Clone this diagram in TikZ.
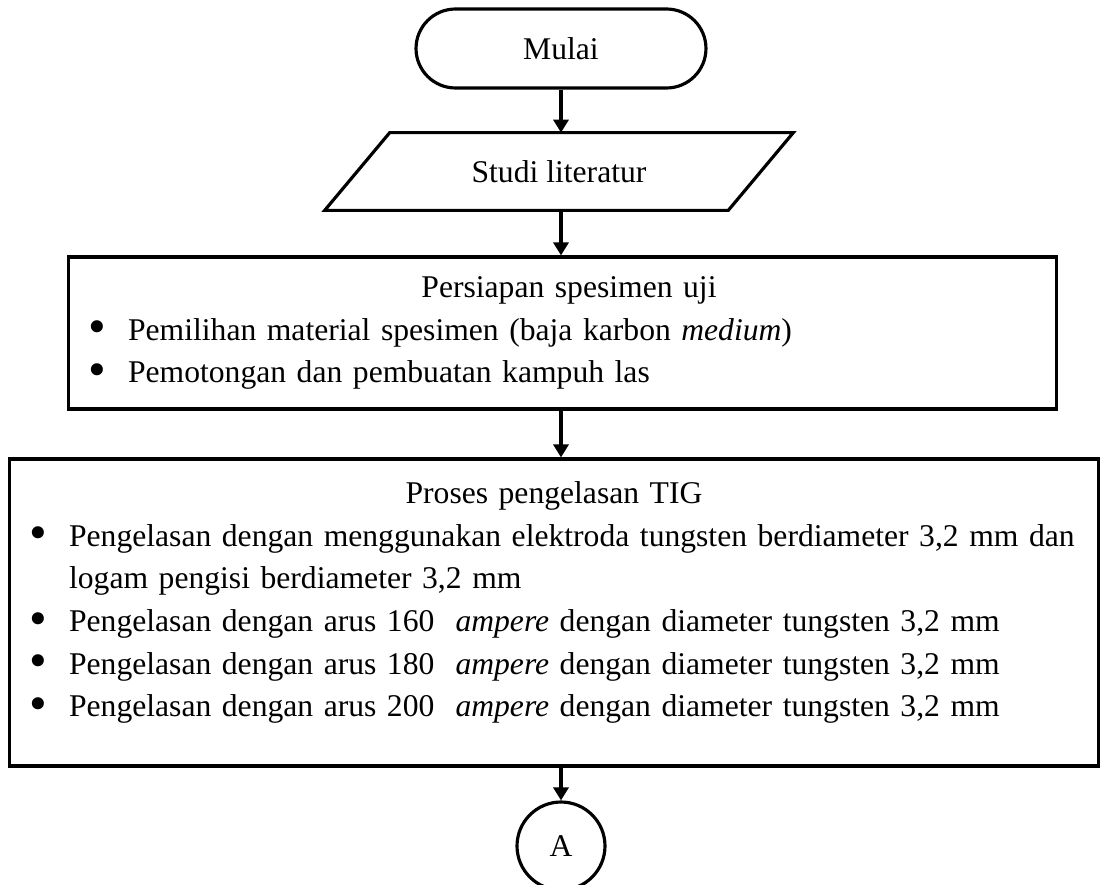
\documentclass[tikz,border=0pt]{standalone}
\usepackage{fontspec}
\setmainfont{Liberation Serif}
\usetikzlibrary{arrows.meta,calc}

\newcommand{\butir}[1]{\par\hangindent=1.2cm\hangafter=1\noindent
  \makebox[1.2cm][l]{\makebox[1.16cm][c]{\raisebox{-0.12em}{\scalebox{1.6}{\textbullet}}}}#1}

\begin{document}
\begin{tikzpicture}
  [
    x=0.02cm, y=-0.02cm,
    font=\fontsize{18}{24.3}\selectfont,
    garis/.style={line width=1.8pt},
    terminal/.style={garis,draw,rectangle,rounded corners=0.79cm,minimum width=5.8cm,minimum height=1.58cm},
    io/.style={rectangle,inner sep=0mm,minimum width=9.36cm,minimum height=1.54cm},
    prosesbox/.style={garis,draw,rectangle,inner sep=0mm,execute at begin node=\raggedright},
    konektor/.style={garis,draw,circle,inner sep=0mm,minimum size=1.76cm},
    panah/.style={line width=1.8pt,-{Triangle[length=0.26cm,width=0.3cm]}},
  ]
  \useasboundingbox (0,0) rectangle (1100,885);

  \node[terminal] (mulai)     at (561,48.5)  {Mulai};
  \node[io]       (studi)     at (559,171.5) {Studi literatur};
  \node[prosesbox,text width=19.78cm,minimum height=3.04cm] (persiapan) at (562.5,333)
    {\kern0.26cm
     {\centering Persiapan spesimen uji\par}
     \butir{Pemilihan material spesimen (baja karbon \textit{medium})}
     \butir{Pemotongan dan pembuatan kampuh las}};
  \node[prosesbox,text width=21.8cm,minimum height=6.14cm] (pengelasan) at (554,612.5)
    {{\centering Proses pengelasan TIG\par}
     \butir{Pengelasan dengan menggunakan elektroda tungsten berdiameter 3,2 mm dan\linebreak logam pengisi berdiameter 3,2 mm}
     \butir{Pengelasan dengan arus 160\ \ \textit{ampere} dengan diameter tungsten 3,2 mm}
     \butir{Pengelasan dengan arus 180\ \ \textit{ampere} dengan diameter tungsten 3,2 mm}
     \butir{Pengelasan dengan arus 200\ \ \textit{ampere} dengan diameter tungsten 3,2 mm}
     \par\kern0.4cm};
  \node[konektor] (A)         at (561,846)   {A};

  % jajar genjang
  \draw[garis] (studi.south west) -- ($(studi.north west)+(65,0)$)
    -- (studi.north east) -- ($(studi.south east)+(-65,0)$) -- cycle;

  \draw[panah] (mulai.south) -- (mulai.south |- studi.north);
  \draw[panah] (studi.south -| mulai.south) -- (mulai.south |- persiapan.north);
  \draw[panah] (persiapan.south -| mulai.south) -- (mulai.south |- pengelasan.north);
  \draw[panah] (A.north |- pengelasan.south) -- (A.north);
\end{tikzpicture}
\end{document}
